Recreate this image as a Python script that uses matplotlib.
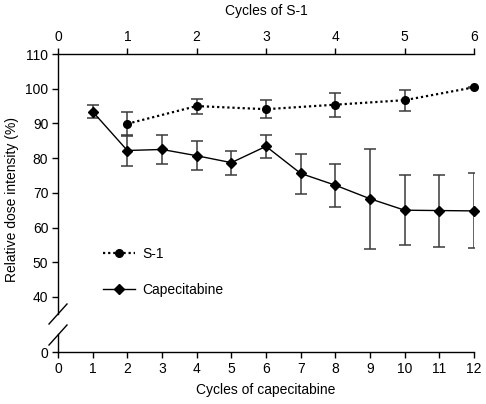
import matplotlib
matplotlib.use("Agg")
import matplotlib.pyplot as plt
from matplotlib.lines import Line2D

FS = 10
plt.rcParams["font.family"] = ["Liberation Sans", "DejaVu Sans"]
plt.rcParams["font.size"] = FS

# capecitabine (bottom axis, cycles 1-12)
cape_cycles = [1, 2, 3, 4, 5, 6, 7, 8, 9, 10, 11, 12]
cape_mean = [93.4, 82.2, 82.5, 80.7, 78.7, 83.4, 75.6, 72.2, 68.3, 65.0, 64.9, 64.8]
cape_low = [91.6, 77.7, 78.4, 76.6, 75.2, 79.9, 69.8, 65.9, 53.9, 54.9, 54.4, 54.0]
cape_high = [95.3, 86.6, 86.6, 84.8, 82.2, 86.7, 81.3, 78.4, 82.7, 75.0, 75.2, 75.6]

# S-1 (top axis, cycles 1-6)
s1_cycles = [1, 2, 3, 4, 5, 6]
s1_mean = [89.9, 95.0, 94.1, 95.4, 96.7, 100.4]
s1_low = [86.3, 92.8, 91.5, 91.9, 93.6, 100.2]
s1_high = [93.2, 97.1, 96.7, 98.7, 99.5, 100.6]

bottom_ticks = list(range(0, 13))
top_ticks = list(range(0, 7))
y_ticks = [40, 50, 60, 70, 80, 90, 100, 110]

W, H = 486, 404
fig = plt.figure(figsize=(W / 100, H / 100), dpi=100)

left = 58 / W
width = (474 - 58) / W
ax = fig.add_axes([left, 1 - 314 / H, width, (314 - 54) / H])
axb = fig.add_axes([left, 1 - 352 / H, width, (352 - 334) / H])

for a in (ax, axb):
    a.set_xlim(0, 12)
    a.patch.set_visible(False)
    a.spines["right"].set_visible(False)
    a.tick_params(direction="out", length=4, width=1, colors="black", labelsize=FS, pad=3)
    for s in a.spines.values():
        s.set_linewidth(1)

ax.set_ylim(35.1, 110)
ax.set_yticks(y_ticks)
ax.spines["bottom"].set_visible(False)
ax.spines["top"].set_visible(False)

axb.set_ylim(0, 5)
axb.set_yticks([0])
axb.spines["top"].set_visible(False)
axb.set_xticks(bottom_ticks)
axb.set_xlabel("Cycles of capecitabine", labelpad=5)

cape_err = [[m - l for m, l in zip(cape_mean, cape_low)],
            [h - m for m, h in zip(cape_mean, cape_high)]]
ax.errorbar(cape_cycles, cape_mean, yerr=cape_err, fmt="none",
            ecolor="#3a3a3a", elinewidth=1.1, capsize=4, capthick=1.1)
ax.plot(cape_cycles, cape_mean, color="black", lw=1, marker="D",
        markersize=5.5, clip_on=False)

axt = ax.twiny()
axt.set_xlim(0, 6)
axt.set_xticks(top_ticks)
axt.patch.set_visible(False)
for side in ("right", "bottom", "left"):
    axt.spines[side].set_visible(False)
axt.spines["top"].set_linewidth(1)
axt.tick_params(direction="out", length=4, width=1, labelsize=FS, pad=3,
                bottom=False, labelbottom=False)
axt.set_xlabel("Cycles of S-1", labelpad=11)
# twiny turns the bottom ticks of ax back on
ax.tick_params(axis="x", bottom=False, labelbottom=False, top=False, labeltop=False)

s1_err = [[m - l for m, l in zip(s1_mean, s1_low)],
          [h - m for m, h in zip(s1_mean, s1_high)]]
axt.errorbar(s1_cycles, s1_mean, yerr=s1_err, fmt="none",
             ecolor="#3a3a3a", elinewidth=1.1, capsize=4, capthick=1.1)
axt.plot(s1_cycles, s1_mean, color="black", lw=1.6, linestyle=(0, (1, 1.3)),
         marker="o", markersize=5.5, clip_on=False)

fig.text(12 / W, 1 - 200 / H, "Relative dose intensity (%)", rotation=90,
         ha="center", va="center", fontsize=FS)

# axis break marks
for yc in (314, 335):
    fig.add_artist(Line2D([49 / W, 67 / W], [1 - (yc + 10) / H, 1 - (yc - 10) / H],
                          color="black", lw=1, transform=fig.transFigure))

handles = [
    Line2D([], [], color="black", lw=1.6, linestyle=(0, (1, 1.3)), marker="o", markersize=5.5),
    Line2D([], [], color="black", lw=1, marker="D", markersize=5.5),
]
fig.legend(handles, ["S-1", "Capecitabine"], loc="upper left",
           bbox_to_anchor=(96 / W, 1 - 240 / H), frameon=False, handlelength=2.3,
           handletextpad=0.5, labelspacing=1.6, borderpad=0, fontsize=FS)

fig.savefig("out.png", dpi=100)
